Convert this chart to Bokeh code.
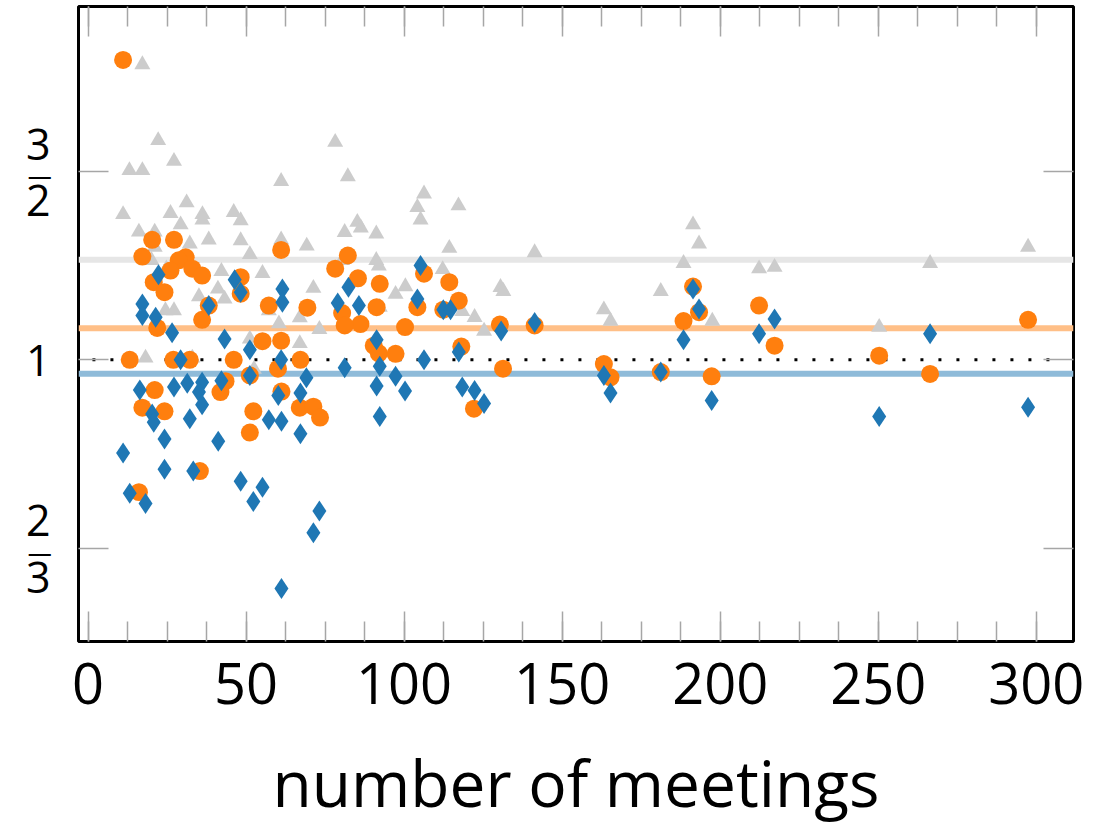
from bokeh.plotting import figure
from bokeh.models import (Range1d, LinearAxis, LogAxis, FixedTicker,
                          SingleIntervalTicker, Span, CustomJSTickFormatter)
from bokeh.embed import file_html
from bokeh.resources import INLINE

FONT = "Open Sans"

# ---------------- data ----------------
grey_x = [17.2, 22.2, 27.2, 13.1, 17.2, 61.1, 11.1, 31.2, 26.1, 36.2,
          36.2, 46.1, 48.3, 29.3, 16.1, 21.1, 38.2, 48.3, 32.2, 61.1,
          69.2, 21.1, 51.2, 20.1, 24.8, 42.2, 55.2, 41.1, 43.2, 35.1,
          71.3, 57.2, 24.5, 27.2, 67.0, 60.4, 73.2, 51.2, 67.0, 18.2,
          33.0, 52.5, 78.2, 82.2, 106.3, 104.2, 105.2, 117.2, 85.2, 86.3,
          81.2, 91.2, 114.3, 141.3, 80.4, 91.2, 92.0, 112.2, 100.4, 97.3,
          130.5, 131.4, 92.3, 118.4, 122.3, 125.3, 191.4, 193.3, 188.4, 181.2,
          212.3, 217.2, 266.4, 297.4, 163.2, 165.3, 197.5, 250.3]
grey_y = [1.889, 1.604, 1.534, 1.504, 1.504, 1.469, 1.368, 1.403, 1.371, 1.368,
          1.352, 1.374, 1.350, 1.338, 1.317, 1.317, 1.295, 1.293, 1.284, 1.295,
          1.278, 1.275, 1.255, 1.239, 1.217, 1.210, 1.205, 1.165, 1.140, 1.146,
          1.167, 1.112, 1.112, 1.112, 1.095, 1.081, 1.068, 1.046, 1.036, 1.004,
          1.004, 0.980, 1.598, 1.484, 1.430, 1.389, 1.352, 1.394, 1.345, 1.329,
          1.316, 1.312, 1.272, 1.260, 1.239, 1.239, 1.224, 1.215, 1.171, 1.152,
          1.169, 1.159, 1.120, 1.110, 1.096, 1.064, 1.338, 1.284, 1.231, 1.159,
          1.217, 1.221, 1.231, 1.275, 1.114, 1.087, 1.087, 1.073]

orange_x = [11.1, 20.3, 27.2, 17.2, 30.9, 28.7, 26.1, 33.0, 36.1, 20.8,
            24.2, 61.1, 48.3, 48.3, 38.2, 36.1, 57.2, 69.4, 21.9, 55.2,
            61.1, 13.2, 27.0, 32.2, 46.1, 60.1, 67.2, 51.2, 21.1, 43.5,
            41.9, 61.2, 17.2, 24.2, 52.3, 51.2, 67.0, 71.3, 73.4, 35.4,
            16.1, 82.2, 78.2, 106.3, 114.3, 85.4, 92.3, 80.4, 91.3, 104.2,
            117.3, 112.4, 86.2, 81.2, 100.3, 130.3, 141.3, 90.4, 92.0, 97.3,
            118.1, 131.3, 122.1, 191.4, 193.3, 188.4, 212.3, 217.2, 250.3, 297.4,
            163.2, 165.3, 181.2, 197.3, 266.4]
orange_y = [1.908, 1.295, 1.295, 1.249, 1.247, 1.239, 1.212, 1.217, 1.199, 1.182,
            1.157, 1.267, 1.195, 1.153, 1.124, 1.090, 1.124, 1.119, 1.071, 1.041,
            1.042, 1.000, 1.000, 1.000, 1.000, 0.981, 1.000, 0.967, 0.937, 0.955,
            0.933, 0.934, 0.902, 0.895, 0.895, 0.855, 0.902, 0.904, 0.883, 0.787,
            0.752, 1.252, 1.217, 1.204, 1.182, 1.192, 1.178, 1.106, 1.120, 1.120,
            1.136, 1.114, 1.080, 1.077, 1.073, 1.079, 1.077, 1.031, 1.014, 1.013,
            1.029, 0.981, 0.900, 1.171, 1.108, 1.087, 1.124, 1.031, 1.009, 1.090,
            0.991, 0.963, 0.974, 0.965, 0.970]

blue_x = [22.3, 46.4, 48.3, 61.5, 61.5, 17.2, 17.2, 21.4, 38.2, 26.6,
          43.2, 51.2, 29.3, 61.1, 51.2, 69.1, 16.4, 27.2, 31.4, 36.1,
          35.1, 42.2, 36.1, 60.2, 67.2, 20.3, 20.8, 32.2, 57.2, 61.2,
          67.2, 24.2, 41.2, 11.1, 24.2, 33.3, 48.3, 55.2, 52.3, 13.2,
          18.2, 73.2, 71.3, 61.2, 105.2, 82.4, 79.0, 85.7, 104.2, 112.4,
          114.7, 130.7, 141.3, 91.3, 117.3, 106.3, 81.2, 92.3, 97.3, 91.3,
          100.3, 118.4, 122.3, 125.3, 92.3, 191.4, 193.3, 188.4, 217.2, 212.3,
          266.4, 163.2, 165.3, 181.2, 197.3, 250.3, 297.4]
blue_y = [1.201, 1.188, 1.157, 1.165, 1.132, 1.128, 1.100, 1.096, 1.124, 1.060,
          1.046, 1.022, 1.000, 1.000, 0.967, 0.962, 0.937, 0.943, 0.951, 0.953,
          0.933, 0.956, 0.908, 0.926, 0.931, 0.890, 0.874, 0.881, 0.879, 0.876,
          0.853, 0.843, 0.839, 0.818, 0.790, 0.787, 0.770, 0.760, 0.737, 0.750,
          0.734, 0.722, 0.689, 0.611, 1.225, 1.169, 1.130, 1.124, 1.140, 1.114,
          1.114, 1.064, 1.084, 1.044, 1.017, 1.000, 0.983, 0.986, 0.965, 0.945,
          0.935, 0.943, 0.936, 0.910, 0.885, 1.165, 1.116, 1.044, 1.092, 1.058,
          1.058, 0.967, 0.931, 0.974, 0.916, 0.885, 0.903]

# mean levels of the three series and the reference ratio 1
grey_mean = 1.2404
orange_mean = 1.0705
blue_mean = 0.9703
ref_x = [1.4, 306.6]
ref_y = [1.0, 1.0]

# axis settings
x_start, x_end = -3.006, 311.77
y_start, y_end = 0.5451, 2.1407
x_tick_interval = 50
y_ticks = [2 / 3, 1.0, 1.5]
y_tick_labels = ["2\n\u2012\n3", "1", "3\n\u2012\n2"]

GREY, ORANGE, BLUE = "#cccccc", "#ff7f0e", "#1f77b4"
TICK = "#a6a6a6"

p = figure(frame_width=995, frame_height=635,
           x_range=Range1d(x_start, x_end), y_range=Range1d(y_start, y_end),
           y_axis_type="log", output_backend="svg", toolbar_location=None,
           min_border_left=78, min_border_right=23, min_border_top=6,
           min_border_bottom=0)
p.background_fill_color = "white"
p.border_fill_color = "white"
p.outline_line_color = "black"
p.outline_line_width = 3
p.outline_line_alpha = 1.0
p.xgrid.visible = False
p.ygrid.visible = False

blank = CustomJSTickFormatter(code="return ''")

def style_ticks(ax):
    ax.axis_line_color = None
    ax.major_tick_in = 30
    ax.major_tick_out = 0
    ax.major_tick_line_color = TICK
    ax.major_tick_line_width = 1.5

def style_x(ax, labels):
    ax.ticker = SingleIntervalTicker(interval=x_tick_interval, num_minor_ticks=4)
    style_ticks(ax)
    ax.minor_tick_in = 20
    ax.minor_tick_out = 0
    ax.minor_tick_line_color = TICK
    ax.minor_tick_line_width = 1.5
    if labels:
        ax.major_label_text_font = FONT
        ax.major_label_text_font_size = "56px"
        ax.major_label_text_color = "black"
        ax.major_label_standoff = 21
    else:
        ax.formatter = blank
        ax.major_label_standoff = 0

def style_y(ax, labels):
    ax.ticker = FixedTicker(ticks=y_ticks, minor_ticks=[])
    style_ticks(ax)
    ax.minor_tick_in = 0
    ax.minor_tick_out = 0
    if labels:
        ax.major_label_overrides = dict(zip(y_ticks, y_tick_labels))
        ax.major_label_text_font = FONT
        ax.major_label_text_font_size = "43px"
        ax.major_label_text_line_height = 0.48
        ax.major_label_text_color = "black"
        ax.major_label_standoff = 28
    else:
        ax.formatter = blank
        ax.major_label_standoff = 0

xb = p.xaxis[0]
style_x(xb, True)
xb.axis_label = "number of meetings"
xb.axis_label_text_font = FONT
xb.axis_label_text_font_size = "64px"
xb.axis_label_text_font_style = "normal"
xb.axis_label_text_color = "black"
xb.axis_label_standoff = 32

xt = LinearAxis()
style_x(xt, False)
p.add_layout(xt, "above")

style_y(p.yaxis[0], True)
yr = LogAxis()
style_y(yr, False)
p.add_layout(yr, "right")

# mean lines
for val, col in [(grey_mean, "#e6e6e6"), (orange_mean, "#ffbf87"), (blue_mean, "#8fbbd9")]:
    p.add_layout(Span(location=val, dimension="width", line_color=col,
                      line_width=6, level="underlay"))

# reference ratio 1
p.line(ref_x, ref_y, line_color="black", line_width=3, line_dash="3 15")

p.scatter(grey_x, grey_y, marker="triangle", size=16, fill_color=GREY, line_color=None)
p.scatter(orange_x, orange_y, marker="circle", size=18, fill_color=ORANGE, line_color=None)
p.scatter(blue_x, blue_y, marker="diamond", size=21, fill_color=BLUE, line_color=None)

open("out.html", "w").write(file_html(p, INLINE))
